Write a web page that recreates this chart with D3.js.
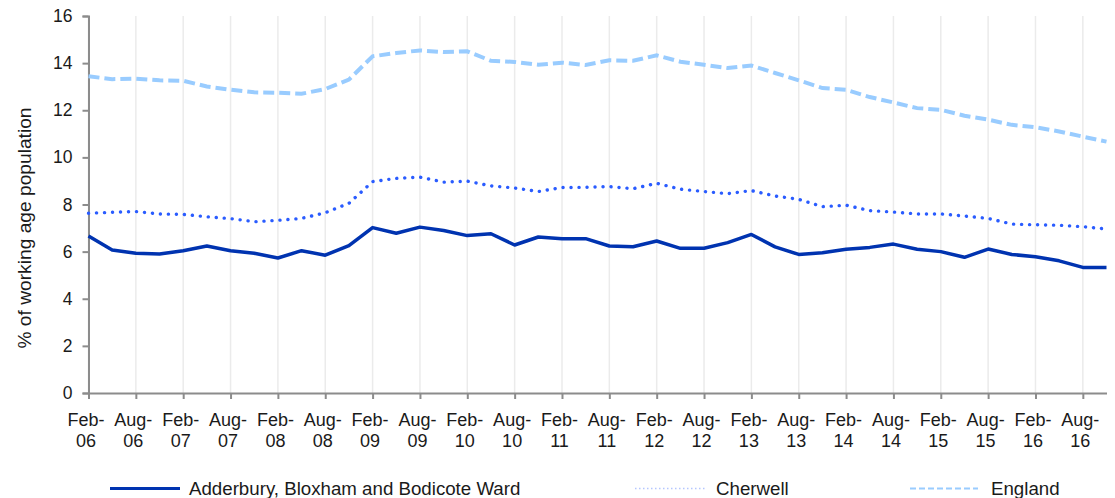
<!DOCTYPE html>
<html>
  <head>
    <title>Working age claimants</title>
    <script src="https://d3js.org/d3.v7.min.js" charset="utf-8"></script>
    <style>
      body { margin: 0; background: #fff; }
      text { font-family: "Liberation Sans", Arial, sans-serif; fill: #1a1a1a; }
    </style>
  </head>
  <body>
    <script>
      // quarterly periods, Feb-06 .. Nov-16
      var periods = ["Feb-06","May-06","Aug-06","Nov-06","Feb-07","May-07","Aug-07","Nov-07",
        "Feb-08","May-08","Aug-08","Nov-08","Feb-09","May-09","Aug-09","Nov-09",
        "Feb-10","May-10","Aug-10","Nov-10","Feb-11","May-11","Aug-11","Nov-11",
        "Feb-12","May-12","Aug-12","Nov-12","Feb-13","May-13","Aug-13","Nov-13",
        "Feb-14","May-14","Aug-14","Nov-14","Feb-15","May-15","Aug-15","Nov-15",
        "Feb-16","May-16","Aug-16","Nov-16"];

      var tickLabels = ["Feb-06","Aug-06","Feb-07","Aug-07","Feb-08","Aug-08","Feb-09","Aug-09",
        "Feb-10","Aug-10","Feb-11","Aug-11","Feb-12","Aug-12","Feb-13","Aug-13",
        "Feb-14","Aug-14","Feb-15","Aug-15","Feb-16","Aug-16"];

      var yTicks = [0, 2, 4, 6, 8, 10, 12, 14, 16];

      var ward = [6.66,6.07,5.93,5.90,6.04,6.24,6.04,5.93,5.73,6.04,5.85,6.25,
        7.02,6.78,7.04,6.90,6.68,6.76,6.28,6.62,6.55,6.55,6.24,6.21,
        6.45,6.14,6.14,6.38,6.73,6.20,5.88,5.95,6.10,6.18,6.32,6.10,
        6.00,5.76,6.11,5.88,5.78,5.61,5.33,5.33];

      var cherwell = [7.63,7.67,7.70,7.60,7.58,7.48,7.40,7.27,7.33,7.41,7.65,8.05,
        8.97,9.11,9.16,8.95,8.99,8.79,8.70,8.55,8.72,8.73,8.76,8.67,
        8.90,8.65,8.55,8.46,8.59,8.36,8.22,7.91,7.97,7.74,7.68,7.60,
        7.60,7.51,7.41,7.17,7.14,7.12,7.06,6.96];

      var england = [13.44,13.32,13.34,13.27,13.25,13.01,12.87,12.76,12.74,12.70,12.90,13.30,
        14.29,14.43,14.54,14.47,14.50,14.10,14.05,13.93,14.02,13.92,14.12,14.10,
        14.33,14.06,13.93,13.79,13.90,13.58,13.27,12.94,12.87,12.56,12.33,12.09,
        12.02,11.77,11.60,11.38,11.28,11.10,10.88,10.67];

      var seriesNames = ["Adderbury, Bloxham and Bodicote Ward", "Cherwell", "England"];

      var width = 1115;
      var height = 498;

      var svg = d3.select("body")
        .append("svg")
        .attr("width", width)
        .attr("height", height);

      var x = d3.scalePoint()
        .domain(periods)
        .range([88.5, 1106.5]);

      var y = d3.scaleLinear()
        .domain([0, 16])
        .range([393, 16]);

      // vertical gridlines at the labelled ticks
      svg.append("g")
        .selectAll("line")
        .data(tickLabels)
        .enter()
        .append("line")
        .attr("x1", function(d){ return x(d); })
        .attr("x2", function(d){ return x(d); })
        .attr("y1", y(16))
        .attr("y2", y(0))
        .attr("stroke", "#ebebeb")
        .attr("stroke-width", 1.5);

      // y axis
      var yAxis = svg.append("g")
        .attr("transform", "translate(" + x(periods[0]) + ",0)")
        .call(d3.axisLeft(y).tickValues(yTicks).tickSize(6).tickPadding(10).tickFormat(d3.format("d")));
      yAxis.select(".domain").attr("stroke", "#8c8c8c").attr("stroke-width", 2);
      yAxis.selectAll(".tick line").attr("stroke", "#8c8c8c").attr("stroke-width", 2);
      yAxis.selectAll(".tick text").attr("font-size", 17.5).style("fill", "#1a1a1a");

      // x axis
      var xAxis = svg.append("g")
        .attr("transform", "translate(0," + y(0) + ")")
        .call(d3.axisBottom(x).tickValues(tickLabels).tickSize(6).tickSizeOuter(0));
      xAxis.select(".domain").attr("stroke", "#8c8c8c").attr("stroke-width", 2);
      xAxis.selectAll(".tick line").attr("stroke", "#8c8c8c").attr("stroke-width", 2);
      xAxis.selectAll(".tick text").each(function(d){
        var t = d3.select(this);
        var parts = d.split("-");
        t.text(null)
          .attr("font-size", 18)
          .attr("y", null)
          .attr("dy", null)
          .style("fill", "#1a1a1a");
        t.append("tspan").attr("x", -3).attr("y", 33).text(parts[0] + "-");
        t.append("tspan").attr("x", -3).attr("y", 54).text(parts[1]);
      });

      // y title
      svg.append("text")
        .attr("transform", "translate(31,228) rotate(-90)")
        .attr("text-anchor", "middle")
        .attr("font-size", 19.2)
        .text("% of working age population");

      var line = d3.line()
        .x(function(d, i){ return x(periods[i]); })
        .y(function(d){ return y(d); });

      svg.append("path")
        .datum(england)
        .attr("fill", "none")
        .attr("stroke", "#99ccff")
        .attr("stroke-width", 4)
        .attr("stroke-dasharray", "11,5")
        .attr("d", line);

      svg.append("path")
        .datum(cherwell)
        .attr("fill", "none")
        .attr("stroke", "#2a5cff")
        .attr("stroke-width", 3.4)
        .attr("stroke-linecap", "round")
        .attr("stroke-dasharray", "0.1,7.9")
        .attr("d", line);

      svg.append("path")
        .datum(ward)
        .attr("fill", "none")
        .attr("stroke", "#0033b0")
        .attr("stroke-width", 3.5)
        .attr("stroke-linejoin", "round")
        .attr("d", line);

      // legend
      var legend = svg.append("g");
      var legendItems = [
        { x1: 110, x2: 180, tx: 189, stroke: "#0033b0", w: 3, dash: null, op: 1 },
        { x1: 635, x2: 705, tx: 716, stroke: "#2a5cff", w: 1.5, dash: "1.5,2.5", op: 0.35 },
        { x1: 910, x2: 978, tx: 991, stroke: "#99ccff", w: 2, dash: "6,3", op: 1 }
      ];
      legendItems.forEach(function(it, i){
        legend.append("line")
          .attr("x1", it.x1).attr("x2", it.x2)
          .attr("y1", 488.5).attr("y2", 488.5)
          .attr("stroke", it.stroke)
          .attr("stroke-width", it.w)
          .attr("stroke-opacity", it.op)
          .attr("stroke-dasharray", it.dash);
        legend.append("text")
          .attr("x", it.tx)
          .attr("y", 495)
          .attr("font-size", 18.7)
          .text(seriesNames[i]);
      });
    </script>
  </body>
</html>
